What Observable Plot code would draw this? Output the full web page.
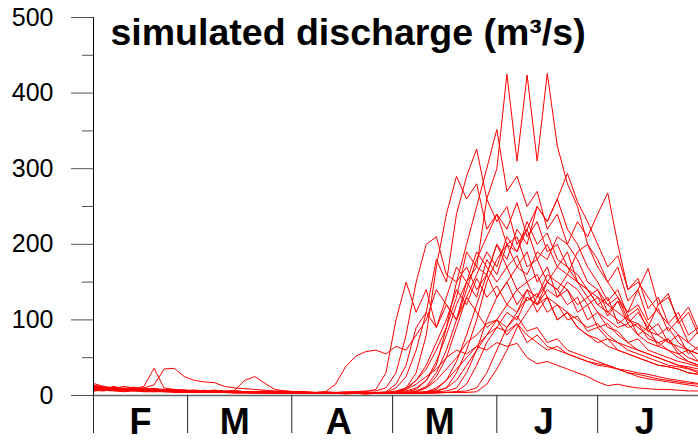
<!DOCTYPE html>
<html><head><meta charset="utf-8">
<script src="https://cdn.jsdelivr.net/npm/d3@7"></script>
<script src="https://cdn.jsdelivr.net/npm/@observablehq/plot@0.6"></script>
<style>
html,body{margin:0;padding:0;background:#fff;}
svg{display:block;}
</style>
</head><body><div id="chart"></div>
<script>
const startDate = "2001-02-01";
const endDate = "2001-07-31";
const stepDays = 3;
const monthStarts = ["2001-02-01","2001-03-01","2001-04-01","2001-05-01","2001-06-01","2001-07-01"];
const monthLabels = ["F","M","A","M","J","J"];
const monthLabelDates = ["2001-02-15","2001-03-15","2001-04-15","2001-05-15","2001-06-15","2001-07-15"];
const yMajorTicks = [0,100,200,300,400,500];
const yMinorTicks = [50,150,250,350,450];
const title = "simulated discharge (m³/s)";

const s01 = [10,8,12,9,8,10,7,8,7,6, 7,6,6,5,6,5,5,4,5,4, 4,4,3,4,3,3,4,3,3,4, 6,10,20,35,60,90,130,190,170,260, 300,425,310,424,310,426,330,280,250,200, 170,150,130,110,120,95,80,90,70,60, 55];
const s02 = [14,11,9,12,10,8,9,7,8,7, 6,7,6,5,6,5,5,5,4,4, 4,3,4,4,3,3,3,4,3,4, 10,25,60,110,180,150,240,290,326,260, 230,250,200,220,180,200,170,190,150,140, 120,110,100,90,95,75,70,60,55,45, 40];
const s03 = [9,8,10,8,9,12,36,10,8,7, 7,6,7,6,6,5,5,6,5,4, 4,4,3,3,4,3,3,3,4,3, 4,5,8,20,40,90,150,200,250,300, 352,270,290,250,270,220,240,200,180,150, 140,120,130,100,90,80,70,75,60,50, 45];
const s04 = [8,9,7,8,7,8,6,7,6,6, 5,6,5,5,5,4,5,4,4,5, 4,4,4,5,4,5,5,6,6,10, 30,80,150,200,210,160,150,170,140,160, 130,150,120,140,110,130,100,110,90,80, 70,75,60,55,50,45,40,38,35,30, 28];
const s05 = [16,12,10,9,11,8,9,8,7,7, 6,6,7,5,6,5,5,4,5,4, 4,4,4,3,4,4,5,5,8,30, 100,150,110,140,90,120,100,150,130,180, 160,200,170,190,150,170,130,140,110,120, 90,95,80,70,60,55,50,45,40,38, 35];
const s06 = [7,9,8,7,8,6,7,6,6,5, 5,6,5,5,4,5,4,4,5,4, 4,3,4,5,15,38,52,58,60,55, 65,60,80,100,140,120,100,130,110,90, 100,80,95,70,80,65,60,55,50,45, 42,40,35,33,30,28,25,22,20,18, 16];
const s07 = [10,9,11,8,9,10,14,35,36,25, 20,18,17,12,10,9,8,7,6,6, 5,5,4,4,4,4,3,4,3,4, 4,10,30,80,170,240,290,260,280,220, 240,200,210,170,180,150,140,120,130,100, 110,90,85,70,75,60,55,50,45,42, 38];
const s08 = [11,9,8,10,8,7,9,7,6,7, 6,5,6,5,5,5,4,5,4,4, 4,4,3,3,3,4,3,3,3,3, 3,4,4,5,6,10,30,60,100,150, 180,200,190,220,250,230,260,294,256,230, 200,170,185,140,155,115,130,95,110,80, 90];
const s09 = [9,10,8,9,7,8,7,6,7,6, 6,5,5,6,5,4,5,4,4,4, 3,4,3,3,3,3,4,3,3,3, 3,3,4,4,5,6,10,30,60,100, 130,150,170,160,190,180,210,200,230,210, 240,268,200,140,150,130,110,95,80,70, 60];
const s10 = [12,10,9,8,9,7,8,7,6,6, 6,5,6,5,7,20,25,16,8,6, 5,5,4,4,4,4,3,3,3,3, 3,3,3,4,4,4,5,15,40,70, 90,110,100,130,120,140,130,150,140,120, 130,105,125,110,140,168,120,135,95,110, 80];
const s11 = [8,7,9,7,8,6,7,6,6,5, 5,5,5,4,5,4,4,4,4,3, 3,3,3,3,3,3,3,3,3,3, 3,3,3,3,4,4,5,6,10,30, 60,90,110,130,120,150,140,160,150,130, 140,110,125,95,110,90,120,130,100,117, 86];
const s12 = [6,7,6,5,6,5,5,5,4,4, 4,4,4,4,3,3,3,3,3,3, 3,3,3,3,3,2,3,2,3,3, 5,8,15,25,35,50,60,55,65,60, 70,65,69,50,42,45,40,35,30,25, 18,13,15,12,10,9,8,8,7,6, 6];
const s13 = [9,8,7,8,6,7,6,6,5,5, 5,5,4,5,4,4,4,4,3,4, 3,3,3,3,3,3,3,3,3,3, 3,3,5,10,20,35,50,70,80,95, 100,90,105,85,90,70,75,60,55,50, 45,40,35,30,28,25,22,20,18,16, 15];
const s14 = [10,12,9,8,9,8,7,7,6,6, 5,6,5,5,4,5,4,4,4,4, 4,3,3,4,3,3,3,3,3,3, 4,4,5,10,25,50,90,130,160,190, 170,210,190,230,200,215,180,170,150,140, 120,130,95,105,80,90,65,75,55,60, 45];
const s15 = [8,9,10,7,8,7,6,7,6,5, 5,5,5,4,5,4,4,4,3,4, 3,3,3,3,3,3,3,3,3,3, 3,3,4,5,8,20,45,80,120,160, 200,180,220,200,250,230,260,220,200,170, 150,125,140,105,115,85,95,70,80,55, 65];
const s16 = [13,10,11,9,8,9,7,7,7,6, 6,6,5,5,5,5,4,4,4,4, 4,4,3,3,3,4,3,3,3,4, 5,6,10,20,45,80,120,150,170,160, 200,170,185,150,160,130,120,110,100,90, 95,80,70,65,60,55,50,45,40,36, 32];
const s17 = [10,8,9,8,7,8,6,7,6,6, 6,5,5,5,4,5,4,4,4,4, 4,4,3,4,4,3,4,3,4,5, 15,40,90,110,90,130,170,150,190,170, 150,170,140,150,120,130,100,110,90,80, 75,65,60,55,50,45,40,38,35,30, 28];
const s18 = [7,6,8,6,7,6,5,6,5,5, 5,4,5,4,4,4,4,3,4,3, 3,3,3,3,3,3,3,3,3,3, 3,3,3,5,10,20,35,50,65,80, 90,85,95,80,70,60,65,55,50,45, 40,38,35,30,25,22,20,18,16,14, 12];
const s19 = [9,11,8,9,8,7,8,6,7,6, 5,6,5,5,5,4,4,5,4,4, 3,4,3,3,3,3,3,3,3,3, 3,3,3,3,3,4,4,4,5,15, 35,60,90,110,130,150,170,160,190,200, 180,150,170,125,140,100,115,85,100,70, 85];
const s20 = [12,9,10,8,8,7,7,7,6,6, 5,5,5,5,4,5,4,4,4,4, 4,3,3,3,4,3,3,3,3,4, 4,8,20,40,70,100,140,120,155,130, 145,120,140,125,135,110,120,100,105,85, 90,75,70,60,55,50,45,40,38,35, 30];
const s21 = [8,10,9,7,8,7,6,6,5,6, 5,5,4,5,4,4,4,4,3,3, 3,3,3,3,3,3,3,3,3,3, 3,4,6,12,30,60,100,140,180,210, 240,220,255,210,230,190,200,170,160,140, 130,120,110,100,95,85,80,70,65,60, 55];
const s22 = [6,8,7,6,7,5,6,5,5,5, 4,5,4,4,4,4,3,4,3,3, 3,3,3,3,3,3,3,2,3,3, 3,3,3,4,6,10,20,40,60,80, 100,120,110,140,130,160,150,140,120,130, 110,100,90,95,80,70,65,60,50,45, 40];

const ensemble = [s01,s02,s03,s04,s05,s06,s07,s08,s09,s10,s11,s12,s13,s14,s15,s16,s17,s18,s19,s20,s21,s22];

const t0 = new Date(startDate);
const rows = ensemble.flatMap((vals, k) =>
  vals.map((v, i) => ({member: k, date: d3.utcDay.offset(t0, stepDays * i), q: v})));
const monthStartDates = monthStarts.map(d => new Date(d));
const labelRows = monthLabels.map((t, i) => ({t, date: new Date(monthLabelDates[i])}));

const font = "Arial, 'Liberation Sans', Helvetica, sans-serif";
const chart = Plot.plot({
  width: 698, height: 442,
  marginLeft: 93, marginRight: 0, marginTop: 17, marginBottom: 47,
  style: {fontFamily: font, background: "#fff", color: "#000", overflow: "visible"},
  x: {type: "utc", domain: [t0, new Date(endDate)], label: null},
  y: {domain: [0, 500], label: null},
  marks: [
    Plot.ruleY([0], {stroke: "#666", strokeWidth: 1.5}),
    Plot.lineY(rows, {x: "date", y: "q", z: "member", stroke: "#ff0000", strokeWidth: 1}),
    Plot.axisY({ticks: yMajorTicks, tickSize: 22, tickPadding: 18, fontSize: 25, stroke: "#555", label: null, tickFormat: d => String(d)}),
    Plot.axisY({ticks: yMinorTicks, tickSize: 11, stroke: "#555", label: null, tickFormat: () => ""}),
    Plot.ruleX([t0], {y1: 0, y2: 500, stroke: "#000", strokeWidth: 1}),
    Plot.axisX({ticks: monthStartDates, tickSize: 38, stroke: "#222", label: null, tickFormat: () => ""}),
    Plot.text(labelRows, {x: "date", text: "t", frameAnchor: "bottom", lineAnchor: "top", dy: 13, fontSize: 36, fontWeight: "bold", fill: "#000"}),
    Plot.text([title], {frameAnchor: "top-left", textAnchor: "start", lineAnchor: "top", dx: 17, dy: 1, fontSize: 37.5, fontWeight: "bold", fill: "#000"})
  ]
});
document.getElementById("chart").append(chart);
</script>
</body></html>
